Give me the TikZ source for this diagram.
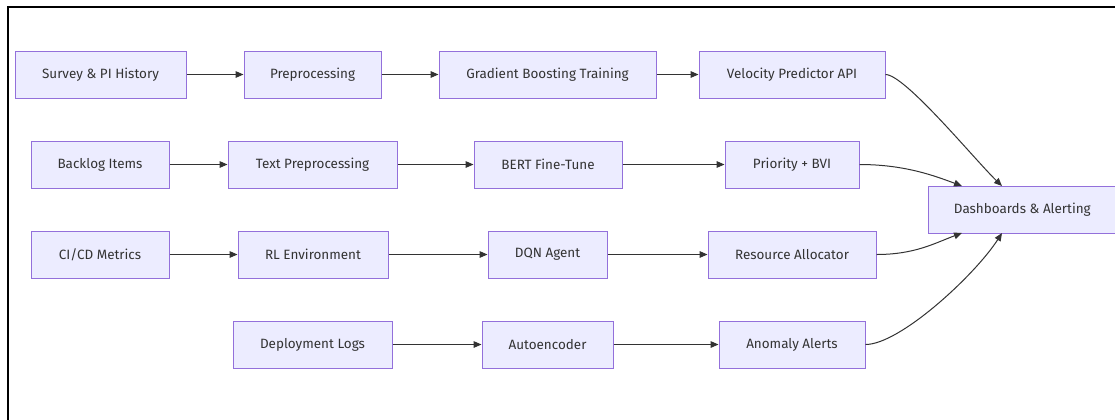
\documentclass[tikz,border=0pt]{standalone}
\usepackage{fontspec}
\setmainfont{Fira Sans}
\usetikzlibrary{arrows.meta}
\definecolor{boxfill}{HTML}{ECECFF}
\definecolor{boxline}{HTML}{9370DB}
\definecolor{ink}{HTML}{333333}
\tikzset{
  stage/.style={draw=boxline, fill=boxfill, line width=0.75pt, minimum height=47*0.75pt,
    inner sep=0pt, text=ink, font=\fontsize{10.1}{12}\selectfont},
  flow/.style={draw=ink, line width=0.75pt, -{Triangle[length=6pt,width=5pt]}},
}
\begin{document}
\begin{tikzpicture}[x=0.75pt,y=-0.75pt]
\useasboundingbox (0,0) rectangle (1115,419);
\clip (0,0) rectangle (1115,419);
\fill[white] (0,0) rectangle (1115,419);
\draw[black, line width=1.5pt] (7.5,422) -- (7.5,6.5) -- (1120,6.5);
% row 1
\node[stage, minimum width=171*0.75pt] (s1) at (100.5,74.5) {Survey \& PI History};
\node[stage, minimum width=137*0.75pt] (p1) at (312.5,74.5) {Preprocessing};
\node[stage, minimum width=217*0.75pt] (g1) at (547.5,74.5) {Gradient Boosting Training};
\node[stage, minimum width=186*0.75pt] (v1) at (792,74.5) {Velocity Predictor API};
% row 2
\node[stage, minimum width=138*0.75pt] (b2) at (100,164.5) {Backlog Items};
\node[stage, minimum width=169*0.75pt] (t2) at (312.5,164.5) {Text Preprocessing};
\node[stage, minimum width=148*0.75pt] (f2) at (548,164.5) {BERT Fine-Tune};
\node[stage, minimum width=134*0.75pt] (r2) at (792,164.5) {Priority + BVI};
% row 3
\node[stage, minimum width=138*0.75pt] (c3) at (100,254.5) {CI/CD Metrics};
\node[stage, minimum width=150*0.75pt] (e3) at (313,254.5) {RL Environment};
\node[stage, minimum width=119*0.75pt] (d3) at (547.5,254.5) {DQN Agent};
\node[stage, minimum width=168*0.75pt] (a3) at (792,254.5) {Resource Allocator};
% row 4
\node[stage, minimum width=159*0.75pt] (l4) at (312.5,344.5) {Deployment Logs};
\node[stage, minimum width=131*0.75pt] (u4) at (547.5,344.5) {Autoencoder};
\node[stage, minimum width=146*0.75pt] (m4) at (792,344.5) {Anomaly Alerts};
% sink
\node[stage, minimum width=189*0.75pt, anchor=west] (dash) at (928,209.5) {\hspace*{-1pt}Dashboards \& Alerting};
\coordinate (dt1) at (1002,186);
\coordinate (dt2) at (962,186);
\coordinate (db1) at (962,233);
\coordinate (db2) at (1002,233);
% straight flows
\draw[flow] (s1) -- (p1);
\draw[flow] (p1) -- (g1);
\draw[flow] (g1) -- (v1);
\draw[flow] (b2) -- (t2);
\draw[flow] (t2) -- (f2);
\draw[flow] (f2) -- (r2);
\draw[flow] (c3) -- (e3);
\draw[flow] (e3) -- (d3);
\draw[flow] (d3) -- (a3);
\draw[flow] (l4) -- (u4);
\draw[flow] (u4) -- (m4);
% curves into dashboard
\draw[flow] (v1.east) .. controls (905,74.5) and (975,160) .. (dt1);
\draw[flow] (r2.east) .. controls (905,164.5) and (935,176) .. (dt2);
\draw[flow] (a3.east) .. controls (915,254.5) and (935,243) .. (db1);
\draw[flow] (m4.east) .. controls (900,344.5) and (975,275) .. (db2);
\end{tikzpicture}
\end{document}
